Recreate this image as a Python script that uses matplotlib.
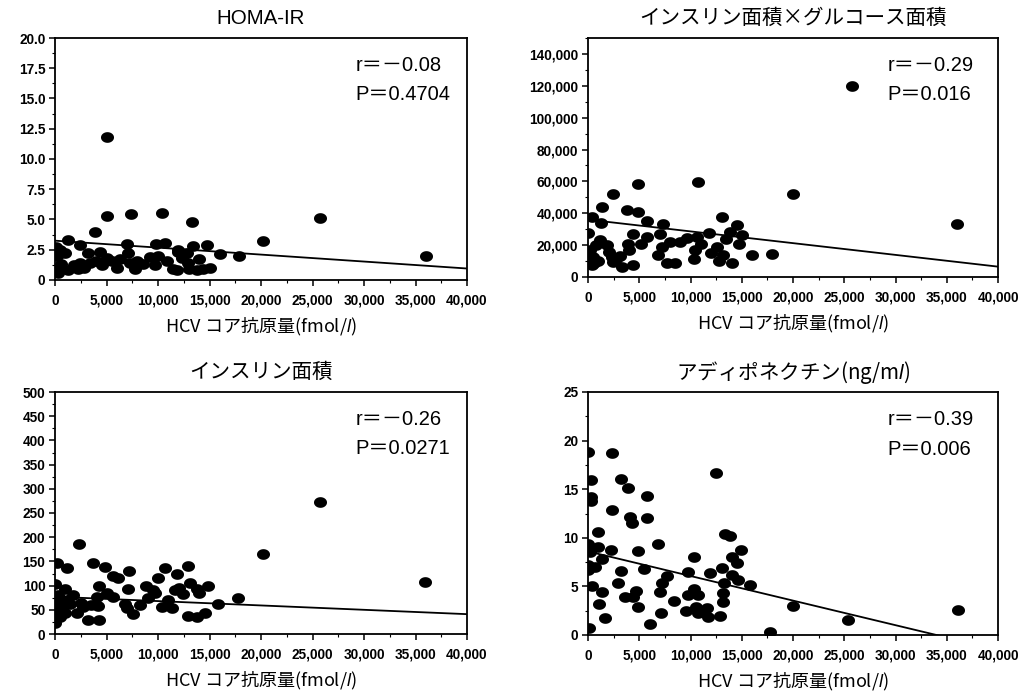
import numpy as np
import matplotlib
matplotlib.use("Agg")
import matplotlib.pyplot as plt
from matplotlib.path import Path
from matplotlib.ticker import FuncFormatter, MultipleLocator

plt.rcParams['mathtext.fontset'] = 'custom'
plt.rcParams['mathtext.it'] = 'Liberation Sans:italic'
plt.rcParams['mathtext.rm'] = 'Liberation Sans'

# ---------------- data ----------------
x_homa = [5020, 5020, 7350, 10420, 13270, 25700, 3880, 1300, 2430, 100, 7020, 9800, 10680, 11970, 13430, 14720, 16020, 17900, 20160, 36020,
          160, 970, 160, 1300, 2270, 2430, 3240, 3400, 4370, 4530, 5500, 6310, 7280, 7770, 8580, 9710, 10030, 10840, 11490, 11810,
          12790, 12950, 13760, 14400, 15050, 7120, 11970, 600, 1800, 2800, 4000, 5000, 6000, 8000, 9200, 12300, 13000, 14000, 300, 500]
y_homa = [11.8, 5.3, 5.45, 5.5, 4.8, 5.1, 3.95, 3.3, 2.9, 2.75, 3.0, 3.0, 3.05, 2.5, 2.85, 2.9, 2.15, 1.95, 3.25, 2.0,
          1.95, 2.2, 0.9, 0.85, 0.95, 1.4, 2.2, 1.4, 2.3, 1.2, 1.6, 1.7, 1.4, 0.9, 1.3, 1.2, 2.0, 1.6, 0.95, 0.85,
          2.2, 1.4, 0.85, 0.95, 1.0, 2.2, 2.3, 1.3, 1.2, 1.0, 1.6, 1.8, 1.0, 1.6, 1.9, 1.8, 0.9, 1.7, 0.6, 2.5]

x_ig = [10760, 4910, 2410, 20030, 1340, 3780, 4910, 360, 13040, 1240, 5790, 7290, 14570, 30, 4420, 5730, 7020, 9630, 10600, 11830,
        13850, 14990, 1170, 1820, 3930, 195, 7190, 10440, 12550, 14760, 520, 2310, 3120, 6860, 13200, 15970, 17920, 360, 1000, 2470,
        3290, 4420, 7680, 8490, 10340, 14020, 25730, 36030,
        800, 2000, 4000, 11000, 12000, 12800, 9000, 2700, 600, 5200, 8000, 13500]
y_ig = [59600, 58560, 52000, 52000, 44100, 42000, 41000, 37400, 37400, 33700, 35000, 33300, 32900, 27500, 26700, 25000, 27100, 24700, 25000, 27500,
        28100, 26100, 23400, 19900, 20500, 16800, 18800, 16800, 18800, 20900, 12600, 12600, 13000, 13700, 13700, 14100, 14700, 7450, 10100, 9500,
        6400, 7450, 8900, 8900, 11000, 8500, 120000, 33300,
        20000, 16000, 17000, 21000, 15000, 10000, 22000, 11000, 9000, 21000, 22000, 24000]

x_ins = [25700, 20150, 2360, 160, 1130, 3720, 4850, 5660, 6140, 7210, 10670, 11800, 12930, 10020, 0, 970, 1780, 4300, 5010, 7110,
         9540, 9700, 11640, 13100, 13740, 14870, 12450, 0, 490, 1460, 4040, 5660, 6790, 8250, 10350, 11320, 15840, 17780, 0, 970,
         2100, 2750, 4200, 6950, 7600, 0, 3230, 4300, 12930, 13740, 14550, 485, 35900,
         300, 600, 1200, 2500, 3500, 9000, 11000, 12000, 14000, 8800]
y_ins = [273, 165, 186, 146, 136, 146, 138, 120, 115, 131, 136, 125, 140, 115, 103, 94, 81, 99, 84, 92,
         91, 84, 91, 105, 94, 99, 83, 70, 63, 62, 77, 76, 63, 60, 56, 53, 62, 75, 50, 43,
         44, 56, 58, 53, 41, 22, 29, 29, 37, 36, 43, 36, 108,
         80, 55, 70, 65, 60, 75, 70, 95, 85, 100]

x_adip = [30, 2370, 260, 3190, 3930, 5730, 260, 260, 12450, 2310, 4100, 4260, 5730, 1010, 13370, 13850, 30, 1010, 6860, 2210,
          4910, 14900, 195, 1340, 14020, 14500, 10340, 0, 680, 30, 3190, 5460, 9790, 11900, 13040, 14020, 7680, 14660, 2960, 7190,
          13270, 15800, 360, 1340, 4680, 7020, 10340, 3610, 4420, 9790, 10760, 13140, 8390, 13140, 1100, 4910, 20030, 9560, 10540, 10760,
          11580, 11740, 12880, 7090, 1660, 6050, 130, 17760, 25400, 36070]
y_adip = [18.86, 18.76, 15.95, 16.0, 15.1, 14.3, 14.2, 13.8, 16.7, 12.86, 12.1, 11.55, 12.07, 10.63, 10.36, 10.2, 9.36, 9.08, 9.36, 8.74,
          8.68, 8.74, 8.57, 7.79, 8.06, 7.44, 7.99, 7.2, 7.03, 6.7, 6.62, 6.76, 6.52, 6.41, 6.86, 6.17, 6.07, 5.66, 5.38, 5.32,
          5.38, 5.14, 5.04, 4.46, 4.56, 4.46, 4.7, 3.94, 3.88, 4.12, 4.12, 4.35, 3.5, 3.43, 3.19, 2.85, 2.98, 2.5, 2.91, 2.23,
          2.75, 1.88, 1.95, 2.23, 1.72, 1.13, 0.69, 0.34, 1.54, 2.57]

titles = ["HOMA-IR", "インスリン面積×グルコース面積", "インスリン面積", "アディポネクチン(ng/m$\\it{l}$)"]
r_texts = ["r＝－0.08", "r＝－0.29", "r＝－0.26", "r＝－0.39"]
p_texts = ["P＝0.4704", "P＝0.016", "P＝0.0271", "P＝0.006"]
trend_x = [0, 40000]
trend_y_homa = [3.25, 0.95]
trend_y_ig = [36000, 6500]
trend_y_ins = [77, 41]
trend_y_adip = [8.6, -1.52]

x_ticks = [0, 5000, 10000, 15000, 20000, 25000, 30000, 35000, 40000]
y_max = [20, 150000, 500, 25]
y_step = [2.5, 20000, 50, 5]
y_tick_top = [20, 140000, 500, 25]
xlabel = "HCV コア抗原量(fmol/$\\it{l}$)"

# ---------------- layout ----------------
W, H = 1024, 695
fig = plt.figure(figsize=(W / 100, H / 100), dpi=100)

boxes = [  # left, top, right, bottom in pixels
    (55, 38, 467, 280),
    (588, 38, 998, 277),
    (55, 392, 467, 634),
    (588, 392, 998, 635),
]

theta = np.linspace(0, 2 * np.pi, 60)
ell = Path(np.column_stack([np.cos(theta), 0.82 * np.sin(theta)]), closed=True)

series = [(x_homa, y_homa, trend_y_homa), (x_ig, y_ig, trend_y_ig),
          (x_ins, y_ins, trend_y_ins), (x_adip, y_adip, trend_y_adip)]

lat = ['Liberation Sans', 'Noto Sans CJK JP']
cjk = 'Noto Sans CJK JP'

def yfmt(i):
    def f(v, pos):
        if abs(v) < 1e-9:
            return "0"
        if i == 0:
            return f"{v:.1f}"
        return f"{v:,.0f}"
    return f

for i, ((l, t, r, b), (xs, ys, ty)) in enumerate(zip(boxes, series)):
    ax = fig.add_axes([l / W, 1 - b / H, (r - l) / W, (b - t) / H])
    ax.scatter(xs, ys, s=88, marker=ell, color='black', linewidths=0, zorder=3)
    ax.plot(trend_x, ty, color='black', lw=1.3, zorder=2)
    ax.set_xlim(0, 40000)
    ax.set_ylim(0, y_max[i])
    ax.set_xticks(x_ticks)
    ax.xaxis.set_minor_locator(MultipleLocator(2500))
    yt = np.arange(0, y_tick_top[i] + y_step[i] / 2, y_step[i])
    ax.set_yticks(yt)
    ax.yaxis.set_minor_locator(MultipleLocator(y_step[i] / 2))
    ax.xaxis.set_major_formatter(FuncFormatter(lambda v, p: "0" if v == 0 else f"{v:,.0f}"))
    ax.yaxis.set_major_formatter(FuncFormatter(yfmt(i)))
    ax.tick_params(axis='both', which='major', direction='out', length=4, width=1.1,
                   labelsize=9.8, color='black')
    ax.tick_params(axis='x', which='major', pad=6)
    ax.tick_params(axis='y', which='major', pad=3)
    ax.tick_params(axis='both', which='minor', direction='out', length=2.5, width=0.8)
    for lab in ax.get_xticklabels() + ax.get_yticklabels():
        lab.set_fontfamily(lat)
        lab.set_fontweight('bold')
    for sp in ax.spines.values():
        sp.set_linewidth(1.3)
        sp.set_color('black')
    ax.set_title(titles[i], fontsize=14.8, fontfamily=cjk if i != 0 else lat,
                 y=1 + 20 / (b - t), va='center', pad=0)
    ax.set_xlabel(xlabel, fontsize=13, fontfamily=cjk, labelpad=6)
    ax.text(0.73, 0.885, r_texts[i], transform=ax.transAxes, fontsize=14.5,
            fontfamily=lat, ha='left', va='center')
    ax.text(0.73, 0.765, p_texts[i], transform=ax.transAxes, fontsize=14.5,
            fontfamily=lat, ha='left', va='center')

fig.savefig("out.png", dpi=100, facecolor='white')
